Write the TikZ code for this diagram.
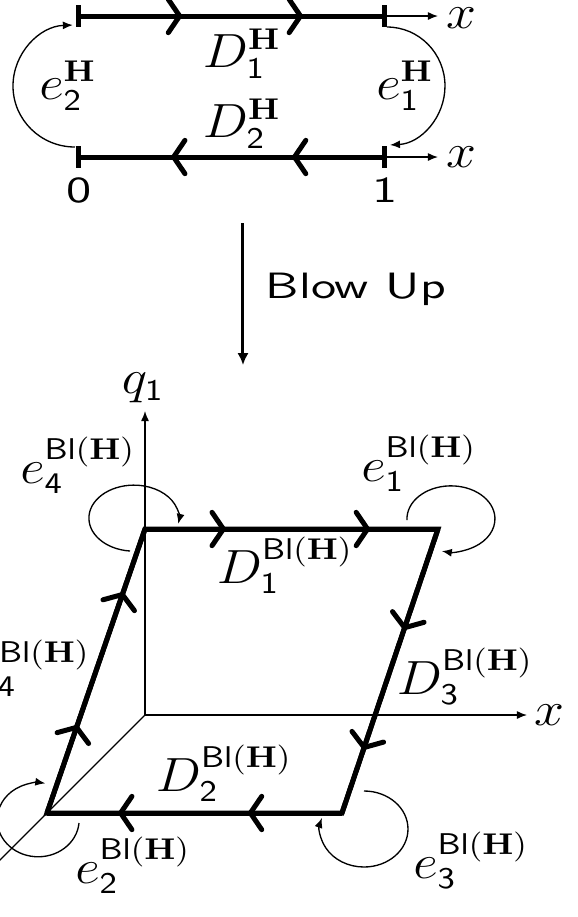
\documentclass[tikz,border=0pt]{standalone}
\usepackage{amsmath, amssymb}
\usetikzlibrary{arrows.meta, decorations.markings}

\newcommand{\BlH}{\mathsf{Bl}(\mathbf{H})}
\newcommand{\sn}[1]{\mathsf{#1}}

\tikzset{
  bar/.style={line width=1.5pt},
  chev/.style 2 args={decoration={markings,
      mark=at position #1 with {\arrow{Straight Barb[length=3.4pt,width=10pt,line width=1.5pt,round]}},
      mark=at position #2 with {\arrow{Straight Barb[length=3.4pt,width=10pt,line width=1.5pt,round]}}},
    postaction={decorate}},
  thinarr/.style={-{Latex[length=3pt,width=2.4pt]}},
  lab/.style={font=\fontsize{13.5}{16}\selectfont, xscale=1.12, inner sep=0pt},
  txt/.style={font=\fontsize{11}{13}\sffamily, xscale=1.4, inner sep=0pt},
}

\begin{document}
\begin{tikzpicture}[x=0.3pt, y=-0.3pt]
  \useasboundingbox (0,0) rectangle (577,917);

  % the segment with its two copies
  \coordinate (L0) at (79,16);  \coordinate (R0) at (385,16);
  \coordinate (L1) at (79,157); \coordinate (R1) at (385,157);
  \coordinate (X0) at (438,16); \coordinate (X1) at (438,157);
  \draw[thinarr] (R0) -- (X0);
  \draw[thinarr] (R1) -- (X1);
  \draw[bar, chev={0.337}{0.732}] (L0) -- (R0);
  \draw[bar, chev={0.304}{0.699}] (R1) -- (L1);
  \foreach \p in {L0,R0,L1,R1}
    \draw[bar] (\p) ++(0,-11) -- ++(0,22);
  \draw[thinarr] (L1) ++(-4,-10) arc[start angle=90, end angle=268, x radius=62, y radius=61];
  \draw[thinarr] (R0) ++(2,11) arc[start angle=-90, end angle=87, x radius=58, y radius=59];
  \node[lab] (xh0) at (461,18) {$x$};
  \node[lab] (xh1) at (461,157) {$x$};
  \node[lab] (D1H) at (242,54) {$D_{\sn1}^{\mathbf{H}}$};
  \node[lab] (D2H) at (242,124) {$D_{\sn2}^{\mathbf{H}}$};
  \node[lab] (e2H) at (68,86) {$e_{\sn2}^{\mathbf{H}}$};
  \node[lab] (e1H) at (405,86) {$e_{\sn1}^{\mathbf{H}}$};
  \node[txt] (n0) at (79,190) {0};
  \node[txt] (n1) at (385,190) {1};

  % blow up
  \coordinate (bu0) at (243,223); \coordinate (bu1) at (243,365);
  \draw[line width=0.9pt, -{Latex[length=3.6pt,width=3.4pt]}] (bu0) -- (bu1);
  \node[txt, anchor=base west] (blow) at (265,298) {Blow Up};

  % axes
  \coordinate (O) at (145,715);
  \coordinate (qtip) at (145,411);
  \coordinate (xtip) at (527,715);
  \coordinate (ztip) at (-40,900);
  \draw[thinarr] (O) -- (qtip);
  \draw[thinarr] (O) -- (xtip);
  \draw (O) -- (ztip);
  \node[lab] (q1) at (143,388) {$q_{\sn1}$};
  \node[lab] (xb) at (549,715) {$x$};

  % the blown up square
  \coordinate (TL) at (145,529); \coordinate (TR) at (438,529);
  \coordinate (BR) at (342,813); \coordinate (BL) at (47,813);
  \draw[bar] (TL) -- (TR) -- (BR) -- (BL) -- cycle;
  \draw[bar, chev={0.276}{0.768}] (TL) -- (TR);
  \draw[bar, chev={0.356}{0.778}] (TR) -- (BR);
  \draw[bar, chev={0.319}{0.759}] (BR) -- (BL);
  \draw[bar, chev={0.31}{0.778}] (BL) -- (TL);
  \draw[thinarr] (TL) ++(-15,22) arc[start angle=95, end angle=370, x radius=45, y radius=33];
  \draw[thinarr] (TR) ++(-31,-9) arc[start angle=178, end angle=462, x radius=44, y radius=33];
  \draw[thinarr] (BR) ++(22,-22) arc[start angle=270, end angle=557, x radius=44, y radius=38];
  \draw[thinarr] (BL) ++(32,10) arc[start angle=5, end angle=280, x radius=41, y radius=37];
  \node[lab] (e4) at (78,465) {$e_{\sn4}^{\BlH}$};
  \node[lab] (e1) at (419,463) {$e_{\sn1}^{\BlH}$};
  \node[lab] (D1) at (285,565) {$D_{\sn1}^{\BlH}$};
  \node[lab] (D3) at (465,676) {$D_{\sn3}^{\BlH}$};
  \node[lab] (D4) at (22,668) {$D_{\sn4}^{\BlH}$};
  \node[lab] (D2) at (224,773) {$D_{\sn2}^{\BlH}$};
  \node[lab] (e2) at (133,865) {$e_{\sn2}^{\BlH}$};
  \node[lab] (e3) at (471,860) {$e_{\sn3}^{\BlH}$};
\end{tikzpicture}
\end{document}
